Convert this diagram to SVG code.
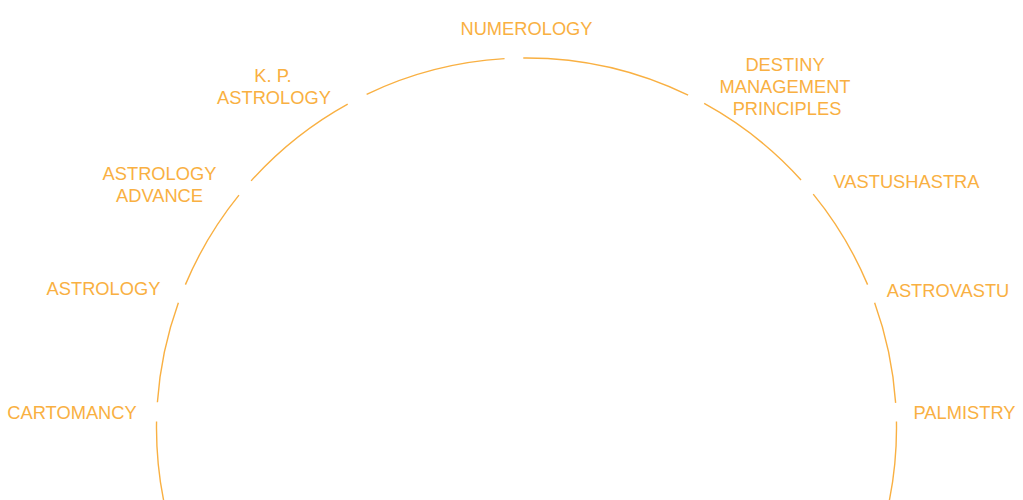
<svg xmlns="http://www.w3.org/2000/svg" width="1023" height="500" viewBox="0 0 1023 500">
<style>
.lbl{font-family:"Liberation Sans",Arial,sans-serif;font-size:18.3px;fill:#F9B042;text-anchor:middle}
.arc{fill:none;stroke:#F9B042;stroke-width:1.4}
</style>
<rect width="1023" height="500" fill="#ffffff"/>
<g id="connectors">
<path class="arc" d="M169.1,523.8 A370,370 0 0 1 156.55,421.54"/>
<path class="arc" d="M157.4,402.19 A370,370 0 0 1 178.37,302.67"/>
<path class="arc" d="M185.41,284.62 A370,370 0 0 1 238.95,195.15"/>
<path class="arc" d="M251.11,180.9 A370,370 0 0 1 347.69,104.08"/>
<path class="arc" d="M366.63,94.32 A370,370 0 0 1 504.56,58.65"/>
<path class="arc" d="M523.27,58.01 A370,370 0 0 1 688.12,95.16"/>
<path class="arc" d="M704.18,103.45 A370,370 0 0 1 801.03,179.94"/>
<path class="arc" d="M813.23,194.15 A370,370 0 0 1 867.59,284.62"/>
<path class="arc" d="M874.63,302.67 A370,370 0 0 1 895.64,402.83"/>
<path class="arc" d="M896.45,421.54 A370,370 0 0 1 883.9,523.8"/>
</g>
<g id="numerology"><text class="lbl" x="526.5" y="35">NUMEROLOGY</text></g>
<g id="kp-astrology"><text class="lbl" x="273" y="81.5">K. P.</text><text class="lbl" x="274" y="103.5">ASTROLOGY</text></g>
<g id="destiny"><text class="lbl" x="785" y="71">DESTINY</text><text class="lbl" x="785" y="93">MANAGEMENT</text><text class="lbl" x="787" y="115">PRINCIPLES</text></g>
<g id="vastushastra"><text class="lbl" x="906.5" y="187.5">VASTUSHASTRA</text></g>
<g id="astrology-advance"><text class="lbl" x="159.5" y="179.5">ASTROLOGY</text><text class="lbl" x="159.5" y="201.5">ADVANCE</text></g>
<g id="astrology"><text class="lbl" x="103.5" y="294.5">ASTROLOGY</text></g>
<g id="astrovastu"><text class="lbl" x="948" y="297">ASTROVASTU</text></g>
<g id="cartomancy"><text class="lbl" x="72" y="418.5">CARTOMANCY</text></g>
<g id="palmistry"><text class="lbl" x="964.5" y="418.5">PALMISTRY</text></g>
</svg>
